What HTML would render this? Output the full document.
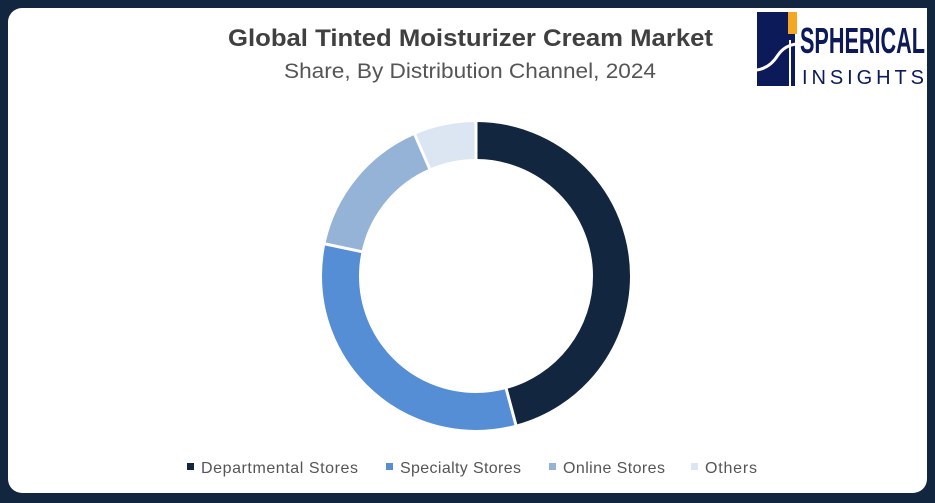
<!DOCTYPE html>
<html><head><meta charset="utf-8"><style>
body{margin:0;width:935px;height:503px;background:#12263f;overflow:hidden;font-family:"Liberation Sans",sans-serif}
#w{position:absolute;left:8px;top:8px;width:919px;height:485px;background:#fff;border-radius:14px}
</style></head><body>
<div id="w"></div>
<div style="position:absolute;left:752px;top:8px;width:175px;height:82px;background:#fff"></div>
<svg style="position:absolute;left:0;top:0" width="935" height="503">
<text x="228" y="46" font-family="Liberation Sans" font-weight="bold" font-size="24" fill="#404040" textLength="485" lengthAdjust="spacingAndGlyphs">Global Tinted Moisturizer Cream Market</text>
<text x="284" y="78" font-family="Liberation Sans" font-size="21" fill="#555" textLength="372" lengthAdjust="spacingAndGlyphs">Share, By Distribution Channel, 2024</text>
<rect x="757" y="12" width="38" height="74" fill="#0c1a5a"/>
<rect x="788" y="12" width="9" height="22" fill="#f5a623"/>
<path d="M757 70 Q770 68 778 55 Q785 45 797 44" stroke="#fff" stroke-width="3" fill="none"/>
<line x1="790" y1="40" x2="790" y2="86" stroke="#fff" stroke-width="2"/>
<text x="800" y="53" font-family="Liberation Sans" font-weight="bold" font-size="36" fill="#0c1a5a" textLength="125" lengthAdjust="spacingAndGlyphs">SPHERICAL</text>
<text x="802" y="84" font-family="Liberation Sans" font-size="20" fill="#0c1a5a" textLength="122" lengthAdjust="spacing">INSIGHTS</text>
<g transform="translate(476,276) rotate(-90)" fill="none" stroke-width="37">
<circle r="135.5" stroke="#12263f" stroke-dasharray="390.2 1000"/>
<circle r="135.5" stroke="#558ed5" stroke-dasharray="0 390.2 276.7 1000"/>
<circle r="135.5" stroke="#95b3d7" stroke-dasharray="0 666.9 129.1 1000"/>
<circle r="135.5" stroke="#dce6f2" stroke-dasharray="0 796 55.4 1000"/>
</g>
<g transform="translate(476,276)" stroke="#fff" stroke-width="3">
<line x1="0" y1="-115" x2="0" y2="-157"/>
<line transform="rotate(165)" x1="0" y1="-115" x2="0" y2="-157"/>
<line transform="rotate(282)" x1="0" y1="-115" x2="0" y2="-157"/>
<line transform="rotate(336.6)" x1="0" y1="-115" x2="0" y2="-157"/>
</g>
<g font-family="Liberation Sans" font-size="16" fill="#555" lengthAdjust="spacingAndGlyphs">
<rect x="187" y="463" width="7" height="7" fill="#12263f"/><text x="201" y="473" textLength="157">Departmental Stores</text>
<rect x="386" y="463" width="7" height="7" fill="#558ed5"/><text x="400" y="473" textLength="121">Specialty Stores</text>
<rect x="549" y="463" width="7" height="7" fill="#95b3d7"/><text x="563" y="473" textLength="102">Online Stores</text>
<rect x="691" y="463" width="7" height="7" fill="#dce6f2"/><text x="705" y="473" textLength="52">Others</text>
</g>
</svg>
</body></html>
